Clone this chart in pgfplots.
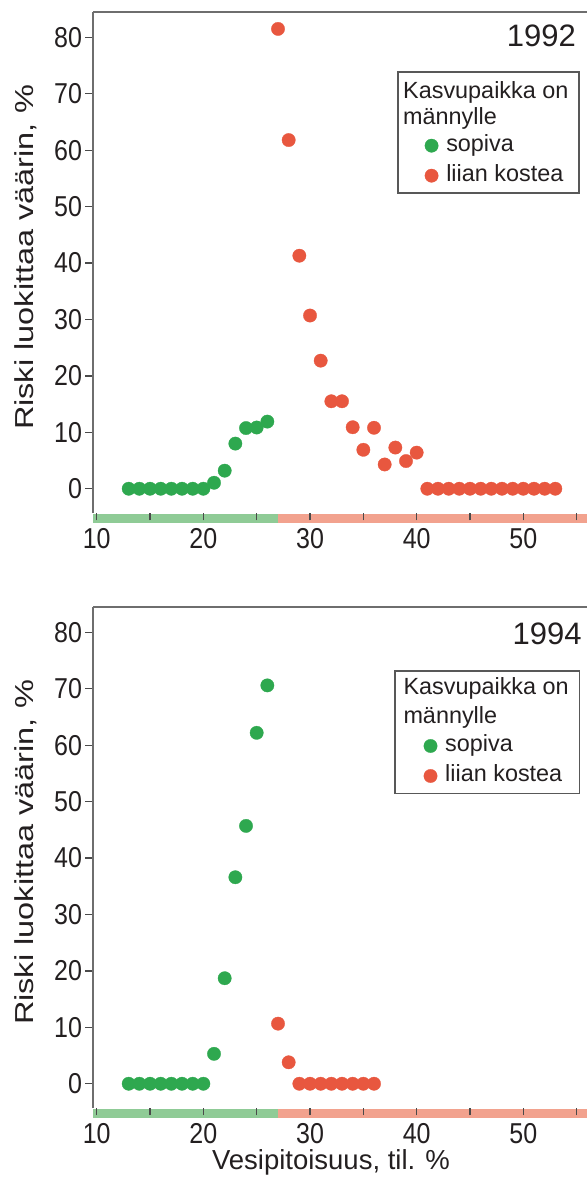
\documentclass[border=0pt]{standalone}
\usepackage{fontspec}
\setmainfont{Liberation Sans}
\usepackage{graphicx}
\usepackage{pgfplots}
\pgfplotsset{compat=1.18}

\definecolor{ptgreen}{HTML}{2EA84F}
\definecolor{ptred}{HTML}{E8573F}
\definecolor{bandgreen}{HTML}{8FCB96}
\definecolor{bandred}{HTML}{F2A28E}
\definecolor{axgray}{HTML}{6E6E6E}
\definecolor{tickgray}{HTML}{4A4A4A}
\definecolor{txt}{HTML}{231F20}

\newcommand{\ticksize}{\fontsize{25}{30}\selectfont}
\newcommand{\legsize}{\fontsize{23.4}{28}\selectfont}

\pgfplotsset{
  panel/.style={
    scale only axis, width=494pt, height=501pt,
    xmin=9.653, xmax=55.97, ymin=-4.3, ymax=84.5,
    clip=false, axis on top,
    axis y line*=left, axis x line*=bottom,
    x axis line style={draw=none},
    y axis line style={draw=axgray, line width=1.6pt},
    xtick={10,20,30,40,50}, minor xtick={15,25,35,45,55},
    ytick={0,10,...,80},
    tick align=outside,
    major tick length=7.5pt, minor tick length=7.5pt,
    tick style={draw=tickgray, line width=1.4pt},
    xticklabel={\scalebox{1}[1.15]{\pgfmathprintnumber[assume math mode=true]{\tick}}},
    yticklabel={\scalebox{1}[1.15]{\pgfmathprintnumber[assume math mode=true]{\tick}}},
    ticklabel style={font=\ticksize, text=txt},
    xticklabel style={yshift=-4pt},
    legend style={draw=none, fill=none, inner sep=0pt, outer sep=0pt,
      column sep=8pt, row sep=8pt, font=\legsize, anchor=north west,
      nodes={inner sep=0pt, text height=17pt, text depth=5pt, text=txt}},
    legend cell align=left,
    legend image code/.code={\draw[##1] plot coordinates {(0pt,0pt)};},
  },
  gpt/.style={only marks, color=ptgreen, mark=*, mark size=6.7pt, mark options={solid, draw=ptgreen, fill=ptgreen, line width=0.3pt}},
  rpt/.style={only marks, color=ptred, mark=*, mark size=6.7pt, mark options={solid, draw=ptred, fill=ptred, line width=0.3pt}},
}

\begin{document}
\begin{tikzpicture}
% ---------- 1992 ----------
\begin{axis}[panel, at={(93pt,672pt)}, anchor=south west,
  legend style={at={(rel axis cs:0.6718,0.7551)}}]
\fill[bandgreen] ([yshift=-1pt]axis cs:9.653,-4.3) rectangle ([yshift=-10pt]axis cs:27,-4.3);
\fill[bandred] ([yshift=-1pt]axis cs:27,-4.3) rectangle ([yshift=-10pt]axis cs:55.97,-4.3);
\draw[axgray, line width=1.6pt] (rel axis cs:0,1) -- (rel axis cs:1,1);
\addplot[gpt] coordinates {(13,0)(14,0)(15,0)(16,0)(17,0)(18,0)(19,0)(20,0)
  (21,1.06)(22,3.2)(23,8.0)(24,10.75)(25,10.85)(26,11.9)};
\addlegendentry{sopiva}
\addplot[rpt] coordinates {(27,81.5)(28,61.8)(29,41.3)(30,30.7)(31,22.7)(32,15.5)(33,15.5)
  (34,10.9)(35,6.9)(36,10.8)(37,4.3)(38,7.3)(39,4.9)(40,6.4)
  (41,0)(42,0)(43,0)(44,0)(45,0)(46,0)(47,0)(48,0)(49,0)(50,0)(51,0)(52,0)(53,0)};
\addlegendentry{liian kostea}
\end{axis}
% ---------- 1994 ----------
\begin{axis}[panel, at={(93pt,77pt)}, anchor=south west,
  legend style={at={(rel axis cs:0.6697,0.7445)}}]
\fill[bandgreen] ([yshift=-1pt]axis cs:9.653,-4.3) rectangle ([yshift=-10pt]axis cs:27,-4.3);
\fill[bandred] ([yshift=-1pt]axis cs:27,-4.3) rectangle ([yshift=-10pt]axis cs:55.97,-4.3);
\draw[axgray, line width=1.6pt] (rel axis cs:0,1) -- (rel axis cs:1,1);
\addplot[gpt] coordinates {(13,0)(14,0)(15,0)(16,0)(17,0)(18,0)(19,0)(20,0)
  (21,5.3)(22,18.7)(23,36.6)(24,45.7)(25,62.2)(26,70.6)};
\addlegendentry{sopiva}
\addplot[rpt] coordinates {(27,10.65)(28,3.8)
  (29,0)(30,0)(31,0)(32,0)(33,0)(34,0)(35,0)(36,0)};
\addlegendentry{liian kostea}
\end{axis}
% ---------- texts ----------
\node[font=\fontsize{31}{36}\selectfont, text=txt, anchor=base east, inner sep=0pt] at (576pt,1138pt) {1992};
\node[font=\fontsize{31}{36}\selectfont, text=txt, anchor=base east, inner sep=0pt] at (581.7pt,540pt) {1994};
\node[rotate=90, font=\fontsize{26}{30}\selectfont, text=txt, inner sep=0pt] at (26pt,927.5pt) {\scalebox{1.25}[1]{Riski luokittaa väärin, \%}};
\node[rotate=90, font=\fontsize{26}{30}\selectfont, text=txt, inner sep=0pt] at (26pt,332.5pt) {\scalebox{1.25}[1]{Riski luokittaa väärin, \%}};
\node[font=\fontsize{27.5}{32}\selectfont, text=txt, anchor=base, inner sep=0pt] at (331pt,15pt) {Vesipitoisuus, til. \%};
% legend boxes and titles
\draw[axgray!80!black, line width=1.3pt] (398pt,1113pt) rectangle (579pt,992pt);
\draw[axgray!80!black, line width=1.3pt] (395pt,514pt) rectangle (579.3pt,391.7pt);
\node[anchor=base west, font=\legsize, text=txt, inner sep=0pt] at (403pt,1086.7pt) {Kasvupaikka on};
\node[anchor=base west, font=\legsize, text=txt, inner sep=0pt] at (403pt,1060.5pt) {männylle};
\node[anchor=base west, font=\legsize, text=txt, inner sep=0pt] at (403.3pt,490pt) {Kasvupaikka on};
\node[anchor=base west, font=\legsize, text=txt, inner sep=0pt] at (403.3pt,461.7pt) {männylle};
\pgfresetboundingbox
\useasboundingbox (0pt,0pt) rectangle (587pt,1185pt);
\end{tikzpicture}
\end{document}
